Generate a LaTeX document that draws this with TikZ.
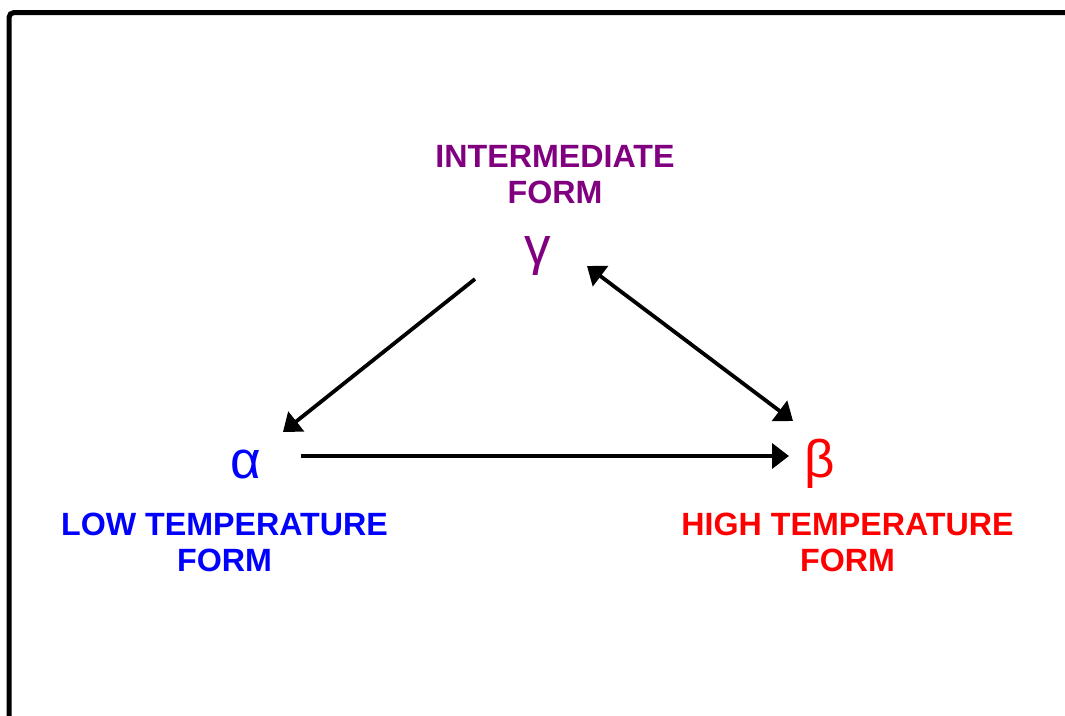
\documentclass[tikz,border=0pt]{standalone}
\usepackage{fontspec}
\setmainfont{Liberation Sans}
\usetikzlibrary{arrows.meta}
\definecolor{lila}{HTML}{800080}
\definecolor{blau}{HTML}{0000FF}
\definecolor{rot}{HTML}{FF0000}
\tikzset{
  pfeil/.style={-{Triangle[length=17pt,width=25pt]},black,line width=3.8pt},
  dpfeil/.style={{Triangle[length=17pt,width=25pt]}-{Triangle[length=17pt,width=25pt]},black,line width=3.8pt},
  rahmen/.style={black,line width=5pt,rounded corners=5pt},
  griech/.style={inner sep=0pt,anchor=base,font=\fontsize{53}{60}\selectfont},
  form/.style={inner sep=0pt,anchor=north,align=center,font=\fontsize{32.2}{36}\selectfont\bfseries},
}
\begin{document}
\begin{tikzpicture}[x=1pt,y=-1pt]
  \useasboundingbox (0,0) rectangle (1065,715);
  \draw[rahmen] (9,730)--(9,12.5)--(1080,12.5);
  % Phasen
  \node[griech,lila] (gamma) at (538,264) {γ};
  \node[griech,blau] (alpha) at (246,478) {α};
  \node[griech,rot] (beta) at (820,477) {β};
  \node[form,lila] (gammatxt) at (555,145) {INTERMEDIATE\\FORM};
  \node[form,blau] (alphatxt) at (224.5,512.7) {LOW TEMPERATURE\\FORM};
  \node[form,rot] (betatxt) at (847.5,512.5) {HIGH TEMPERATURE\\FORM};
  % Umwandlungen
  \draw[pfeil] ([shift={(-63,15)}]gamma.base)--([shift={(37,-46)}]alpha.base);
  \draw[dpfeil] ([shift={(49,2)}]gamma.base)--([shift={(-27,-56)}]beta.base);
  \draw[pfeil] ([shift={(55,-22)}]alpha.base)--([shift={(-31,-21)}]beta.base);
\end{tikzpicture}
\end{document}
